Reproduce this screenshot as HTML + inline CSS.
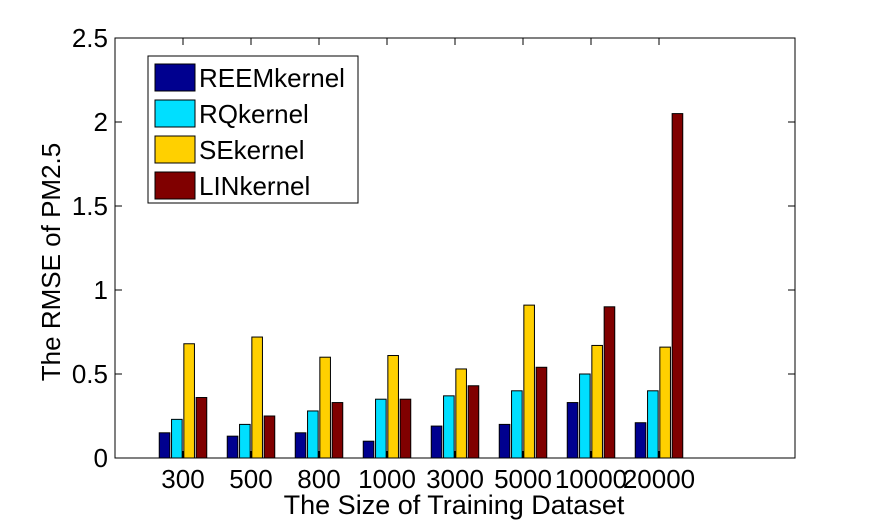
<!DOCTYPE html>
<html><head><meta charset="utf-8"><style>
body{margin:0;background:#fff;}
svg text{font-family:"Liberation Sans",Arial,sans-serif;fill:#000;}
</style></head><body>
<svg id="chart" width="880" height="523" xmlns="http://www.w3.org/2000/svg">
<g id="bars"></g>
<g id="axes"></g>
<g id="legend"></g>
<text x="454" y="514" font-size="27" text-anchor="middle">The Size of Training Dataset</text>
<text transform="translate(60,262) rotate(-90)" font-size="26" text-anchor="middle">The RMSE of PM2.5</text>
</svg>
<script>
const categories=["300","500","800","1000","3000","5000","10000","20000"];
const seriesNames=["REEMkernel","RQkernel","SEkernel","LINkernel"];
const reem=[0.15,0.13,0.15,0.10,0.19,0.20,0.33,0.21];
const rq=[0.23,0.20,0.28,0.35,0.37,0.40,0.50,0.40];
const se=[0.68,0.72,0.60,0.61,0.53,0.91,0.67,0.66];
const lin=[0.36,0.25,0.33,0.35,0.43,0.54,0.90,2.05];
const yTicks=[0,0.5,1,1.5,2,2.5];
const yTickLabels=["0","0.5","1","1.5","2","2.5"];
const colors=["#00008f","#00dfff","#ffd000","#800000"];
const NS="http://www.w3.org/2000/svg";
const L=115,R=795,T=38,B=458;
const xs=i=>L+(R-L)*(i+1)/10;
const ys=v=>B-(B-T)*v/2.5;
function mk(tag,attrs,parent){const e=document.createElementNS(NS,tag);for(const k in attrs)e.setAttribute(k,attrs[k]);parent.appendChild(e);return e;}
const bars=document.getElementById('bars'),axes=document.getElementById('axes'),legend=document.getElementById('legend');
const all=[reem,rq,se,lin];
all.forEach((s,j)=>{s.forEach((v,i)=>{
 const cx=xs(i)+(j-1.5)*12.3;
 const r=mk('rect',{x:cx-5.3,y:ys(v),width:10.6,height:B-ys(v),fill:colors[j],stroke:'#000','stroke-width':1},bars);
 
 
});});
const box=mk('rect',{x:L,y:T,width:R-L,height:B-T,fill:'none',stroke:'#000','stroke-width':1},axes);


yTicks.forEach((v,i)=>{
 mk('line',{x1:L,x2:L+7,y1:ys(v),y2:ys(v),stroke:'#000'},axes);
 mk('line',{x1:R,x2:R-7,y1:ys(v),y2:ys(v),stroke:'#000'},axes);
 const t=mk('text',{x:L-7,y:ys(v)+9,'font-size':26,'text-anchor':'end'},axes);
 t.textContent=yTickLabels[i];
 
 
});
categories.forEach((c,i)=>{
 mk('line',{x1:xs(i),x2:xs(i),y1:B,y2:B-7,stroke:'#000'},axes);
 mk('line',{x1:xs(i),x2:xs(i),y1:T,y2:T+7,stroke:'#000'},axes);
 const t=mk('text',{x:xs(i),y:B+30,'font-size':26,'text-anchor':'middle'},axes);
 t.textContent=c;
 
 
});
const lb=mk('rect',{x:148,y:56,width:210,height:147,fill:'#fff',stroke:'#000'},legend);


seriesNames.forEach((n,j)=>{
 const y=64+j*36;
 const sw=mk('rect',{x:155,y:y,width:40,height:27,fill:colors[j],stroke:'#000'},legend);
 
 
 const t=mk('text',{x:199,y:y+23,'font-size':26},legend);
 t.textContent=n;
 
 
});
</script>
</body></html>
